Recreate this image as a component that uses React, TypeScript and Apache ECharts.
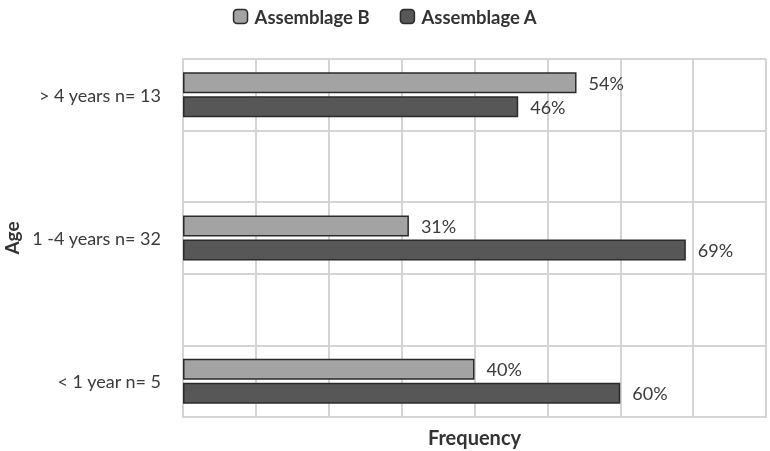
import React, { useEffect, useRef } from "react";
import * as echarts from "echarts";

const categories = ["< 1 year n= 5", "", "1 -4 years n= 32", "", "> 4 years n= 13"];
const assemblageA = [60, null, 69, null, 46];
const assemblageB = [40, null, 31, null, 54];
const xTicks = { min: 0, max: 80, interval: 10 };

const FONT = "Lato";

export default function App() {
  const ref = useRef<HTMLDivElement>(null);
  useEffect(() => {
    const chart = echarts.init(ref.current!, null, { renderer: "svg" });
    const labelStyle = {
      show: true,
      position: "right" as const,
      distance: 12,
      formatter: "{c}%",
      color: "#3a3a3a",
      fontFamily: FONT,
      fontSize: 18,
    };
    chart.setOption({
      animation: false,
      textStyle: { fontFamily: FONT },
      legend: {
        data: ["Assemblage B", "Assemblage A"],
        top: 2,
        left: "center",
        itemWidth: 14,
        itemHeight: 14,
        itemGap: 30,
        itemStyle: { borderColor: "#2b2b2b", borderWidth: 1.5 },
        textStyle: { fontFamily: FONT, fontWeight: "bold", fontSize: 18.5, color: "#333", padding: [0, 0, 0, 2] },
      },
      grid: { left: 183, right: 4, top: 59, bottom: 34, containLabel: false, outerBoundsMode: "none" },
      xAxis: {
        type: "value",
        min: xTicks.min,
        max: xTicks.max,
        interval: xTicks.interval,
        name: "Frequency",
        nameLocation: "middle",
        nameGap: 10,
        nameTextStyle: { fontFamily: FONT, fontWeight: "bold", fontSize: 20, color: "#333" },
        axisLabel: { show: false },
        axisTick: { show: false },
        axisLine: { show: true, lineStyle: { color: "#d4d4d4", width: 2 } },
        splitLine: { show: true, lineStyle: { color: "#d4d4d4", width: 2 } },
      },
      yAxis: {
        type: "category",
        data: categories,
        name: "Age",
        nameLocation: "middle",
        nameGap: 160,
        nameRotate: 90,
        nameTextStyle: { fontFamily: FONT, fontWeight: "bold", fontSize: 19, color: "#333" },
        axisLabel: { fontFamily: FONT, fontSize: 18, color: "#3a3a3a", margin: 22, interval: 0 },
        axisTick: { show: false },
        axisLine: { show: true, lineStyle: { color: "#d4d4d4", width: 2 } },
        splitLine: { show: true, interval: 0, lineStyle: { color: "#d4d4d4", width: 2 } },
      },
      series: [
        {
          name: "Assemblage B",
          type: "bar",
          data: assemblageB,
          barWidth: 21,
          barGap: "14%",
          itemStyle: { color: "#a3a3a3", borderColor: "#2b2b2b", borderWidth: 1.5 },
          label: labelStyle,
        },
        {
          name: "Assemblage A",
          type: "bar",
          data: assemblageA,
          barWidth: 21,
          barGap: "14%",
          itemStyle: { color: "#575757", borderColor: "#2b2b2b", borderWidth: 1.5 },
          label: labelStyle,
        },
      ],
    });
    return () => chart.dispose();
  }, []);
  return <div ref={ref} style={{ width: 770, height: 451, position: "fixed", left: 0, top: 0 }} />;
}
